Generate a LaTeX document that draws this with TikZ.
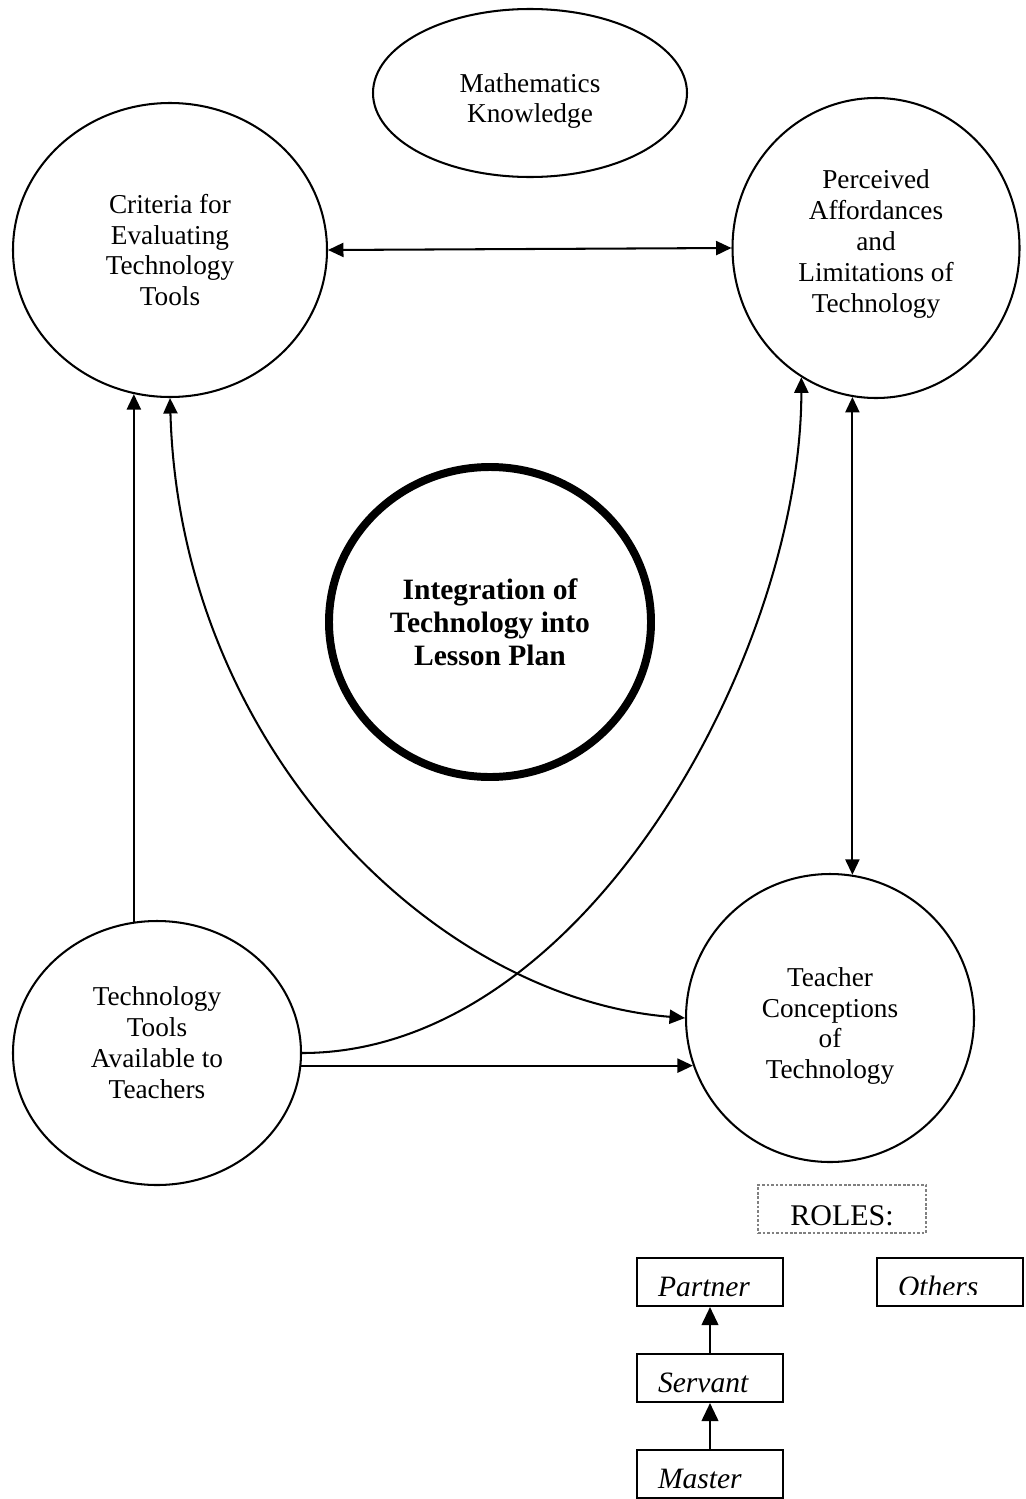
\documentclass[tikz,border=0pt]{standalone}
\usepackage{fontspec}
\setmainfont{Liberation Serif}
\usetikzlibrary{shapes.geometric,arrows.meta}

% one reference pixel
\newcommand{\px}{0.44pt}

\begin{document}
\begin{tikzpicture}[
  x=0.44pt, y=-0.44pt,
  bubble/.style={ellipse, draw, line width=0.9pt, inner sep=0},
  % the words inside a bubble, hung on its centre as a label
  tag/.style={align=center, inner sep=0, font=\fontsize{12}{13.6}\selectfont},
  % the plan in the middle gets the heavy outline
  core/.style={ellipse, draw, line width=3.5pt, inner sep=0, align=center,
               font=\fontsize{13}{14.5}\selectfont\bfseries},
  link/.style={line width=0.9pt, >={Triangle[length=6.8pt,width=6.2pt]}},
  rolelink/.style={line width=0.9pt, -{Triangle[length=8pt,width=7.4pt]}},
  % baseline sits 38 px under the top edge, as in the role boxes
  rolebox/.style={rectangle, draw, line width=0.9pt, inner ysep=0,
                  inner xsep=9.24pt, text width=45.76pt, align=left,
                  text height=16.72pt, text depth=4.4pt,
                  font=\fontsize{13}{15}\selectfont\itshape},
  rolehead/.style={rectangle, draw=gray, line width=0.5pt,
                   dash pattern=on 1.2pt off 0.8pt, inner sep=0,
                   minimum width=168*\px, minimum height=48*\px,
                   text height=17.6pt, text depth=3.5pt,
                   font=\fontsize{13.2}{16}\selectfont}
]
\useasboundingbox (0,0) rectangle (1025,1499);

% ══ bubbles ════════════════════════════════════════════════════════════════
\node[bubble, minimum width=314*\px, minimum height=168*\px,
      label={[tag, yshift=-3.5pt]center:Mathematics\\Knowledge}] (math) at (530,93) {};
\node[bubble, minimum width=314*\px, minimum height=294*\px,
      label={[tag]center:Criteria for\\Evaluating\\Technology\\Tools}] (crit) at (170,250) {};
\node[bubble, minimum width=287*\px, minimum height=300*\px,
      label={[tag, yshift=1.8pt]center:Perceived\\Affordances\\and\\Limitations of\\Technology}]
  (perc) at (876,248) {};
\node[core, minimum width=322*\px, minimum height=310*\px] (integ) at (490,622)
  {Integration of\\Technology into\\Lesson Plan};
\node[bubble, minimum width=288*\px, minimum height=264*\px,
      label={[tag, yshift=4.4pt]center:Technology\\Tools\\Available to\\Teachers}]
  (tools) at (157,1053) {};
\node[bubble, minimum width=288*\px, minimum height=288*\px,
      label={[tag, yshift=-3.5pt]center:Teacher\\Conceptions\\of\\Technology}]
  (conc) at (830,1018) {};

% ══ links ══════════════════════════════════════════════════════════════════
\draw[link, <->] (crit.east) -- (perc.west);
\draw[link, ->] (tools.100) -- (tools.100 |- crit.256);
\draw[link, <->] (crit.south) .. controls +(10,350) and +(-250,-20) .. (conc.west);
\draw[link, ->] (tools.east) .. controls +(285,0) and +(0,272) .. (perc.240);
\draw[link, ->] (tools.-5) -- (tools.-5 -| conc.199);
\draw[link, <->] (perc.261) -- (perc.261 |- conc.81);

% ══ roles ══════════════════════════════════════════════════════════════════
\node[rolehead] (roles) at (842,1209) {ROLES:};
\node[rolebox] (partner) at (710,1282) {Partner};
\node[rolebox] (servant) at (710,1378) {Servant};
\node[rolebox] (master)  at (710,1474) {Master};
\node[rolebox] (others)  at (950,1282) {};
% the word in this box is cut off at its foot
\coordinate (cut) at (0,1294);
\begin{scope}
  \clip (others.north west) rectangle (others.east |- cut);
  \node[rolebox, draw=none] at (others) {Others};
\end{scope}

\draw[rolelink] (master.north) -- (servant.south);
\draw[rolelink] (servant.north) -- (partner.south);

\end{tikzpicture}
\end{document}
